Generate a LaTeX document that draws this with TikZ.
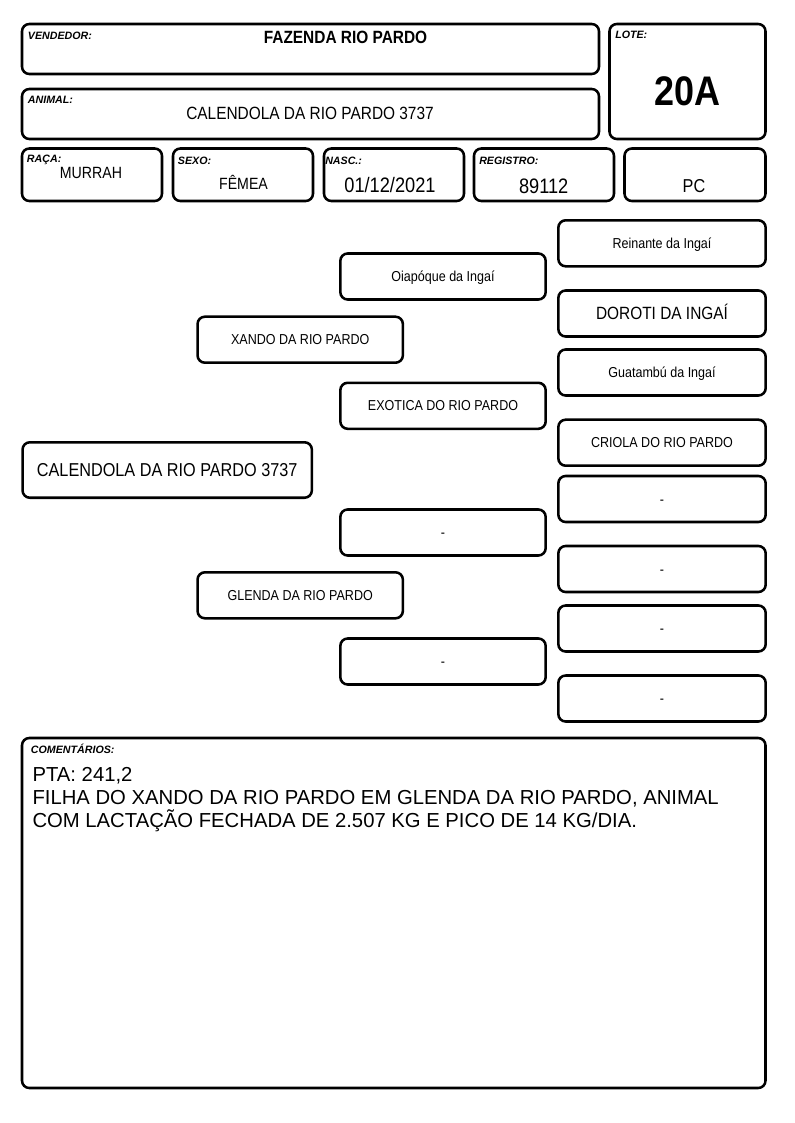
\documentclass[tikz,border=0pt]{standalone}
\usepackage{fontspec}
\setmainfont{Liberation Sans}
\newfontfamily\narrowfont{Liberation Sans}[FakeStretch=0.87]
\usepackage{tikz}
\newcommand{\tagfont}{\fontsize{8}{9.6}\selectfont\bfseries\itshape}
\newcommand{\fsize}[1]{\narrowfont\fontsize{#1}{#1}\selectfont}

\begin{document}
\begin{tikzpicture}[x=.75pt,y=-.75pt,
    card/.style={draw,line width=1.9pt,rounded corners=5.5pt},
    tag/.style={anchor=base west,inner sep=0pt,font=\tagfont},
    val/.style={anchor=base,inner sep=0pt},
    pbox/.style={card,minimum width=154pt,minimum height=34.5pt,inner sep=0pt,
        text height=7.7pt,text depth=0pt,font=\fsize{10.8}},
    psmall/.style={},
    pbig/.style={font=\fsize{13.3},text height=9.5pt}]
    \useasboundingbox (0,0) rectangle (794,1123);

    \draw[card] (22,24) rectangle (599,74);
    \draw[card] (22,89) rectangle (599,139);
    \draw[card] (609.5,24) rectangle (765.5,139);
    \draw[card] (22,148.5) rectangle (162,201);
    \draw[card] (173,148.5) rectangle (313,201);
    \draw[card] (324,148.5) rectangle (464,201);
    \draw[card] (474,148.5) rectangle (614,201);
    \draw[card] (624.5,148.5) rectangle (765.5,201);
    \draw[card] (22,738) rectangle (765.5,1088);

    \foreach \x/\y/\name/\txt in {27.7/39.3/vendtag/VENDEDOR:, 27.7/103.3/animaltag/ANIMAL:,
        615/39/lotetag/LOTE:, 26.7/163/racatag/RAÇA:, 177.7/165/sexotag/SEXO:,
        325/164.3/nasctag/NASC.:, 479/165/regtag/REGISTRO:, 30.7/753.3/comtag/COMENTÁRIOS:}
    {
        \node[tag] (\name) at (\x,\y) {\txt};
    }

    \node[val,font=\fsize{13.3}\bfseries] (vendedor) at (345.5,43.3) {FAZENDA RIO PARDO};
    \node[val,font=\fsize{13.3}] (animal) at (310,119.3) {CALENDOLA DA RIO PARDO 3737};
    \node[val,font=\fsize{31}\bfseries] (lote) at (687.5,105.7) {20A};
    \node[val,font=\fsize{12.2}] (raca) at (91,178.3) {MURRAH};
    \node[val,font=\fsize{12.2}] (sexo) at (243.5,189.3) {FÊMEA};
    \node[val,font=\fsize{15.7}] (nasc) at (390,192.7) {01/12/2021};
    \node[val,font=\fsize{15.7}] (registro) at (543.7,193.3) {89112};
    \node[val,font=\fsize{14}] (categoria) at (694,192.7) {PC};

    \node[pbox,minimum width=217pt,minimum height=41.6pt,text height=10pt,font=\fsize{14}]
        (self) at (167.2,470) {CALENDOLA DA RIO PARDO 3737};
    \node[pbox] (sire) at (300.2,339.7) {XANDO DA RIO PARDO};
    \node[pbox] (dam) at (300.2,595.3) {GLENDA DA RIO PARDO};

    \foreach \y/\txt [count = \i from 1] in {276.5/Oiapóque da Ingaí, 405.8/EXOTICA DO RIO PARDO, 532.5/-, 661.5/-}
    {
        \node[pbox] (gp\i) at (443,\y) {\txt};
    }

    \foreach \y/\st/\txt [count = \i from 1] in {243.3/psmall/Reinante da Ingaí, 313.5/pbig/DOROTI DA INGAÍ,
        372.5/psmall/Guatambú da Ingaí, 442.7/psmall/CRIOLA DO RIO PARDO, 499/psmall/-,
        569/psmall/-, 628.5/psmall/-, 698.5/psmall/-}
    {
        \node[pbox,\st,minimum width=155.5pt] (ggp\i) at (662,\y) {\txt};
    }

    \node[anchor=north west,inner sep=0pt,align=left,font=\fontsize{15.2}{17.5}\selectfont]
        (comentario) at (32.3,766.7) {PTA: 241,2\\FILHA DO XANDO DA RIO PARDO EM GLENDA DA RIO PARDO, ANIMAL\\COM LACTAÇÃO FECHADA DE 2.507 KG E PICO DE 14 KG/DIA.};
\end{tikzpicture}
\end{document}
